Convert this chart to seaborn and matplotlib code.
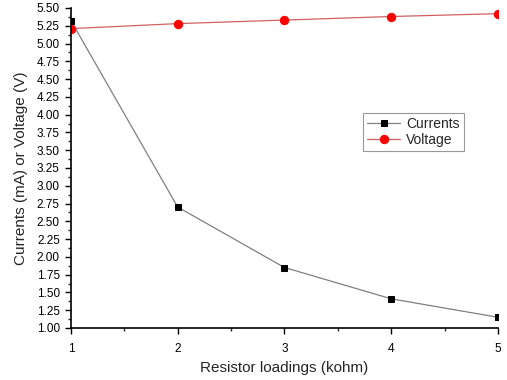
import matplotlib
matplotlib.use("Agg")
import numpy as np
import pandas as pd
import matplotlib.pyplot as plt
import seaborn as sns
from matplotlib.ticker import MultipleLocator, AutoMinorLocator

# --- data ---
loadings = [1, 2, 3, 4, 5]
currents = [5.32, 2.70, 1.85, 1.41, 1.15]
voltage = [5.21, 5.28, 5.33, 5.38, 5.42]

df = pd.DataFrame({
    "Resistor loadings (kohm)": loadings * 2,
    "value": currents + voltage,
    "Series": ["Currents"] * 5 + ["Voltage"] * 5,
})

sns.set_style("white")
plt.rcParams['font.family'] = ['Liberation Sans', 'DejaVu Sans']

fig = plt.figure(figsize=(5.07, 3.8), dpi=100, facecolor='white')
ax = fig.add_axes([0.140, 0.137, 0.842, 0.842])

sns.lineplot(
    data=df[df["Series"] == "Currents"],
    x="Resistor loadings (kohm)", y="value",
    color="#808080", linewidth=0.9,
    marker="s", markersize=4.5, markerfacecolor="black", markeredgecolor="black",
    label="Currents", ax=ax,
)
sns.lineplot(
    data=df[df["Series"] == "Voltage"],
    x="Resistor loadings (kohm)", y="value",
    color="#d06060", linewidth=0.9,
    marker="o", markersize=6, markerfacecolor="red", markeredgecolor="red",
    label="Voltage", ax=ax,
)

ax.set_xlim(1, 5)
ax.set_ylim(1.0, 5.5)
ax.xaxis.set_major_locator(MultipleLocator(1))
ax.xaxis.set_minor_locator(AutoMinorLocator(2))
ax.yaxis.set_major_locator(MultipleLocator(0.25))
ax.yaxis.set_minor_locator(AutoMinorLocator(2))
ax.yaxis.set_major_formatter(matplotlib.ticker.FormatStrFormatter('%.2f'))

ax.tick_params(axis='both', which='major', direction='out', length=4, width=1,
               labelsize=8.5, colors='black', bottom=True, left=True, pad=4)
ax.tick_params(axis='x', which='major', pad=7)
ax.tick_params(axis='both', which='minor', direction='out', length=2, width=1,
               bottom=True, left=True)

for s in ['top', 'right']:
    ax.spines[s].set_visible(False)
for s in ['left', 'bottom']:
    ax.spines[s].set_color('black')
    ax.spines[s].set_linewidth(1.2)

ax.set_xlabel("Resistor loadings (kohm)", fontsize=11, labelpad=4)
ax.set_ylabel("Currents (mA) or Voltage (V)", fontsize=11, labelpad=6)

leg = ax.legend(loc='upper left', bbox_to_anchor=(0.684, 0.672), fontsize=10,
                frameon=True, fancybox=False, edgecolor='#808080',
                handlelength=2.4, borderpad=0.3, labelspacing=0.15,
                handletextpad=0.4, borderaxespad=0)
leg.get_frame().set_linewidth(0.8)

fig.savefig("out.png", dpi=100, facecolor='white')
plt.close()
